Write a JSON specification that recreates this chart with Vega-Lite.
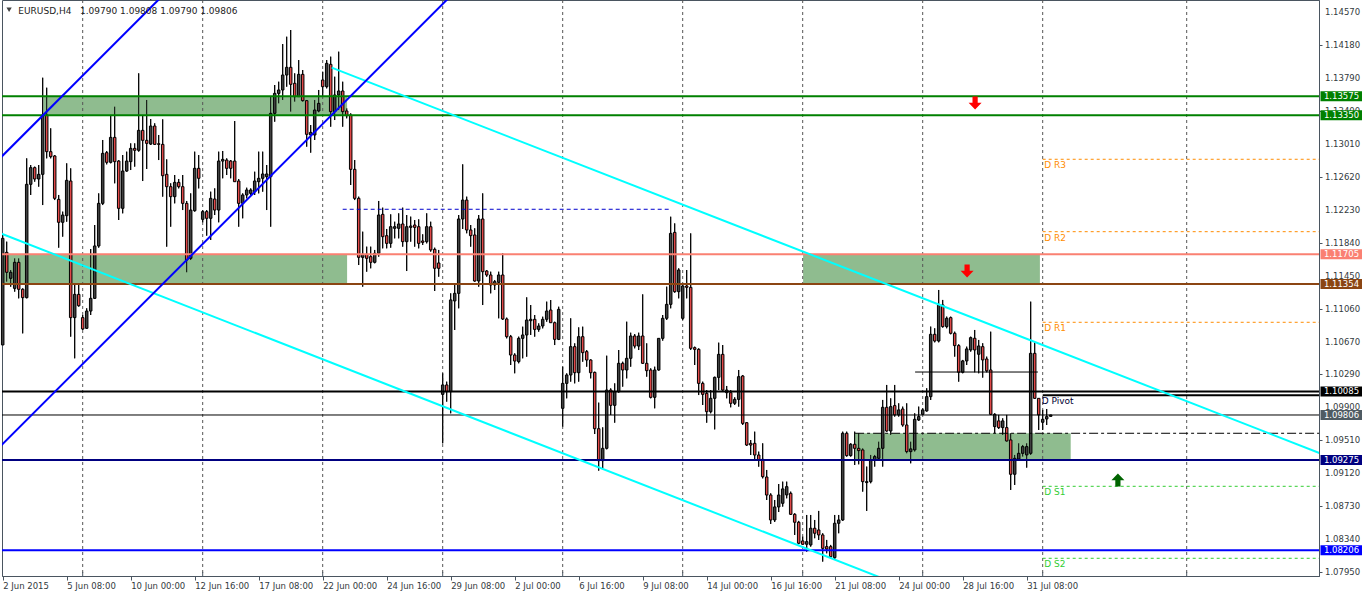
{
"$schema": "https://vega.github.io/schema/vega-lite/v6.json",
"width": 1317, "height": 576,
"autosize": {"type": "none"},
"padding": {"left": 2, "top": 0, "right": 43, "bottom": 18},
"background": "#ffffff",
"config": {"view": {"stroke": "#4a5560", "strokeWidth": 1}, "text": {"font": "DejaVu Sans", "fontSize": 8.5},
 "axis": {"labelFont": "DejaVu Sans", "labelFontSize": 8.5, "labelColor": "#333a40", "tickColor": "#4a5560", "domainColor": "#4a5560", "grid": false, "labelOverlap": false}},
"datasets": {
"candles": [
{"i":0,"o":1.10634,"h":1.11934,"l":1.10634,"c":1.11894},
{"i":1,"o":1.11729,"h":1.11855,"l":1.11382,"c":1.11493},
{"i":2,"o":1.11422,"h":1.1152,"l":1.11323,"c":1.11493},
{"i":3,"o":1.11303,"h":1.11658,"l":1.11264,"c":1.11611},
{"i":4,"o":1.11611,"h":1.11658,"l":1.11185,"c":1.11292},
{"i":5,"o":1.11292,"h":1.11303,"l":1.10771,"c":1.11193},
{"i":6,"o":1.11193,"h":1.1284,"l":1.11185,"c":1.12533},
{"i":7,"o":1.12533,"h":1.12761,"l":1.12407,"c":1.1273},
{"i":8,"o":1.1273,"h":1.12742,"l":1.12564,"c":1.12596},
{"i":9,"o":1.12596,"h":1.12761,"l":1.12505,"c":1.12651},
{"i":10,"o":1.12651,"h":1.13793,"l":1.12288,"c":1.13352},
{"i":11,"o":1.13352,"h":1.13675,"l":1.1284,"c":1.12919},
{"i":12,"o":1.12919,"h":1.13195,"l":1.1284,"c":1.1286},
{"i":13,"o":1.12868,"h":1.12879,"l":1.12347,"c":1.12367},
{"i":14,"o":1.12355,"h":1.12407,"l":1.11784,"c":1.12084},
{"i":15,"o":1.12084,"h":1.1221,"l":1.11914,"c":1.1217},
{"i":16,"o":1.12162,"h":1.12781,"l":1.12091,"c":1.1258},
{"i":17,"o":1.12572,"h":1.12722,"l":1.10732,"c":1.10957},
{"i":18,"o":1.10957,"h":1.11363,"l":1.10476,"c":1.11232},
{"i":19,"o":1.11232,"h":1.11363,"l":1.11087,"c":1.11098},
{"i":20,"o":1.10957,"h":1.10988,"l":1.10811,"c":1.10823},
{"i":21,"o":1.10831,"h":1.11067,"l":1.10823,"c":1.11035},
{"i":22,"o":1.11035,"h":1.11768,"l":1.10988,"c":1.11185},
{"i":23,"o":1.11185,"h":1.12052,"l":1.11177,"c":1.11804},
{"i":24,"o":1.11804,"h":1.12426,"l":1.11784,"c":1.12308},
{"i":25,"o":1.12308,"h":1.13057,"l":1.12288,"c":1.12899},
{"i":26,"o":1.12907,"h":1.12927,"l":1.12769,"c":1.12793},
{"i":27,"o":1.12793,"h":1.13352,"l":1.12781,"c":1.13088},
{"i":28,"o":1.13088,"h":1.13451,"l":1.12545,"c":1.12801},
{"i":29,"o":1.12808,"h":1.1282,"l":1.12111,"c":1.12249},
{"i":30,"o":1.12249,"h":1.12879,"l":1.1219,"c":1.1269},
{"i":31,"o":1.1269,"h":1.12919,"l":1.12682,"c":1.12808},
{"i":32,"o":1.12801,"h":1.13017,"l":1.12702,"c":1.12958},
{"i":33,"o":1.12958,"h":1.13017,"l":1.12742,"c":1.12935},
{"i":34,"o":1.12935,"h":1.13845,"l":1.12919,"c":1.13171},
{"i":35,"o":1.13171,"h":1.13352,"l":1.12572,"c":1.13053},
{"i":36,"o":1.13053,"h":1.1353,"l":1.12714,"c":1.13017},
{"i":37,"o":1.13009,"h":1.13305,"l":1.12998,"c":1.13222},
{"i":38,"o":1.13222,"h":1.13254,"l":1.12998,"c":1.13005},
{"i":39,"o":1.13013,"h":1.13116,"l":1.1282,"c":1.13005},
{"i":40,"o":1.13005,"h":1.13301,"l":1.12387,"c":1.12635},
{"i":41,"o":1.12651,"h":1.12828,"l":1.11796,"c":1.12505},
{"i":42,"o":1.12505,"h":1.12545,"l":1.12032,"c":1.12387},
{"i":43,"o":1.12387,"h":1.12643,"l":1.12308,"c":1.12556},
{"i":44,"o":1.12556,"h":1.12596,"l":1.12485,"c":1.12505},
{"i":45,"o":1.12505,"h":1.12643,"l":1.12229,"c":1.12308},
{"i":46,"o":1.12308,"h":1.12336,"l":1.11493,"c":1.11638},
{"i":47,"o":1.11658,"h":1.12426,"l":1.11638,"c":1.12229},
{"i":48,"o":1.12221,"h":1.12919,"l":1.1221,"c":1.12722},
{"i":49,"o":1.12722,"h":1.12879,"l":1.12485,"c":1.12604},
{"i":50,"o":1.12119,"h":1.12229,"l":1.12084,"c":1.1221},
{"i":51,"o":1.1221,"h":1.12229,"l":1.11926,"c":1.12131},
{"i":52,"o":1.12131,"h":1.12446,"l":1.11875,"c":1.12367},
{"i":53,"o":1.12359,"h":1.12485,"l":1.1217,"c":1.12229},
{"i":54,"o":1.12229,"h":1.12919,"l":1.12084,"c":1.12808},
{"i":55,"o":1.12808,"h":1.12927,"l":1.12604,"c":1.12828},
{"i":56,"o":1.1282,"h":1.1284,"l":1.12643,"c":1.12722},
{"i":57,"o":1.12808,"h":1.1282,"l":1.12604,"c":1.12722},
{"i":58,"o":1.12808,"h":1.13281,"l":1.12564,"c":1.12564},
{"i":59,"o":1.12572,"h":1.12596,"l":1.12032,"c":1.12308},
{"i":60,"o":1.12308,"h":1.12426,"l":1.12131,"c":1.12407},
{"i":61,"o":1.12407,"h":1.12493,"l":1.12367,"c":1.12466},
{"i":62,"o":1.12426,"h":1.12485,"l":1.12407,"c":1.12466},
{"i":63,"o":1.12446,"h":1.12682,"l":1.12407,"c":1.12572},
{"i":64,"o":1.12564,"h":1.12919,"l":1.12426,"c":1.12604},
{"i":65,"o":1.12604,"h":1.12919,"l":1.12446,"c":1.12655},
{"i":66,"o":1.12623,"h":1.12761,"l":1.12229,"c":1.12655},
{"i":67,"o":1.12623,"h":1.13569,"l":1.12032,"c":1.13372},
{"i":68,"o":1.13372,"h":1.13707,"l":1.13273,"c":1.13608},
{"i":69,"o":1.13608,"h":1.13746,"l":1.1349,"c":1.13648},
{"i":70,"o":1.13648,"h":1.14191,"l":1.1353,"c":1.13825},
{"i":71,"o":1.13825,"h":1.14278,"l":1.13687,"c":1.13916},
{"i":72,"o":1.13916,"h":1.14357,"l":1.13392,"c":1.13715},
{"i":73,"o":1.13727,"h":1.13845,"l":1.1351,"c":1.13569},
{"i":74,"o":1.13569,"h":1.14002,"l":1.13569,"c":1.13833},
{"i":75,"o":1.13833,"h":1.13884,"l":1.1351,"c":1.13522},
{"i":76,"o":1.13522,"h":1.1353,"l":1.12978,"c":1.13124},
{"i":77,"o":1.13116,"h":1.13234,"l":1.12907,"c":1.13147},
{"i":78,"o":1.13116,"h":1.1353,"l":1.13057,"c":1.13411},
{"i":79,"o":1.134,"h":1.13648,"l":1.13384,"c":1.1349},
{"i":80,"o":1.13766,"h":1.13864,"l":1.13569,"c":1.13687},
{"i":81,"o":1.13687,"h":1.14002,"l":1.13667,"c":1.13963},
{"i":82,"o":1.13951,"h":1.14042,"l":1.13214,"c":1.13392},
{"i":83,"o":1.13392,"h":1.13805,"l":1.13293,"c":1.13589},
{"i":84,"o":1.13589,"h":1.14101,"l":1.13411,"c":1.13636},
{"i":85,"o":1.13636,"h":1.13746,"l":1.13214,"c":1.13392},
{"i":86,"o":1.134,"h":1.13431,"l":1.13313,"c":1.13344},
{"i":87,"o":1.13352,"h":1.13372,"l":1.12525,"c":1.1271},
{"i":88,"o":1.1271,"h":1.1282,"l":1.12347,"c":1.12367},
{"i":89,"o":1.12367,"h":1.12387,"l":1.11579,"c":1.1167},
{"i":90,"o":1.1167,"h":1.11973,"l":1.11323,"c":1.11705},
{"i":91,"o":1.11705,"h":1.11796,"l":1.115,"c":1.11658},
{"i":92,"o":1.11678,"h":1.11796,"l":1.1154,"c":1.11611},
{"i":93,"o":1.11611,"h":1.11757,"l":1.11599,"c":1.11717},
{"i":94,"o":1.11717,"h":1.12336,"l":1.11678,"c":1.1217},
{"i":95,"o":1.12178,"h":1.12257,"l":1.11776,"c":1.11914},
{"i":96,"o":1.11926,"h":1.12005,"l":1.11776,"c":1.11835},
{"i":97,"o":1.11835,"h":1.12178,"l":1.11784,"c":1.12032},
{"i":98,"o":1.12013,"h":1.12091,"l":1.11894,"c":1.12032},
{"i":99,"o":1.12013,"h":1.1219,"l":1.11894,"c":1.12064},
{"i":100,"o":1.12064,"h":1.12257,"l":1.11796,"c":1.11855},
{"i":101,"o":1.11855,"h":1.1217,"l":1.11508,"c":1.12032},
{"i":102,"o":1.12024,"h":1.12151,"l":1.11855,"c":1.1204},
{"i":103,"o":1.12052,"h":1.12111,"l":1.11796,"c":1.12024},
{"i":104,"o":1.12032,"h":1.12119,"l":1.11776,"c":1.11835},
{"i":105,"o":1.11863,"h":1.11942,"l":1.11816,"c":1.11847},
{"i":106,"o":1.11855,"h":1.1219,"l":1.11835,"c":1.12032},
{"i":107,"o":1.12032,"h":1.12091,"l":1.11737,"c":1.11757},
{"i":108,"o":1.11764,"h":1.11784,"l":1.11272,"c":1.1154},
{"i":109,"o":1.11603,"h":1.11757,"l":1.11441,"c":1.1154},
{"i":110,"o":1.1005,"h":1.10299,"l":1.09471,"c":1.10161},
{"i":111,"o":1.10161,"h":1.102,"l":1.09964,"c":1.10082},
{"i":112,"o":1.10082,"h":1.11244,"l":1.09826,"c":1.11166},
{"i":113,"o":1.11154,"h":1.11343,"l":1.10811,"c":1.11244},
{"i":114,"o":1.11244,"h":1.1217,"l":1.11067,"c":1.12123},
{"i":115,"o":1.12123,"h":1.12769,"l":1.12005,"c":1.12347},
{"i":116,"o":1.12347,"h":1.12387,"l":1.11954,"c":1.11993},
{"i":117,"o":1.11993,"h":1.12052,"l":1.11796,"c":1.11926},
{"i":118,"o":1.11934,"h":1.12013,"l":1.11382,"c":1.1139},
{"i":119,"o":1.1139,"h":1.1217,"l":1.11323,"c":1.12123},
{"i":120,"o":1.12123,"h":1.12426,"l":1.11106,"c":1.115},
{"i":121,"o":1.11508,"h":1.1152,"l":1.11441,"c":1.11461},
{"i":122,"o":1.11461,"h":1.115,"l":1.11244,"c":1.11343},
{"i":123,"o":1.11343,"h":1.11402,"l":1.11284,"c":1.11382},
{"i":124,"o":1.11374,"h":1.115,"l":1.10949,"c":1.11461},
{"i":125,"o":1.11461,"h":1.11717,"l":1.10929,"c":1.10941},
{"i":126,"o":1.10941,"h":1.10957,"l":1.10712,"c":1.10732},
{"i":127,"o":1.10732,"h":1.10752,"l":1.10397,"c":1.10515},
{"i":128,"o":1.10515,"h":1.10535,"l":1.10299,"c":1.10444},
{"i":129,"o":1.10437,"h":1.10732,"l":1.10417,"c":1.10712},
{"i":130,"o":1.10712,"h":1.1085,"l":1.10476,"c":1.10752},
{"i":131,"o":1.10752,"h":1.11197,"l":1.10495,"c":1.10929},
{"i":132,"o":1.10921,"h":1.11106,"l":1.10752,"c":1.10937},
{"i":133,"o":1.10937,"h":1.10988,"l":1.10732,"c":1.10818},
{"i":134,"o":1.10818,"h":1.10889,"l":1.10791,"c":1.10858},
{"i":135,"o":1.10858,"h":1.10968,"l":1.1083,"c":1.10937},
{"i":136,"o":1.10937,"h":1.11146,"l":1.10909,"c":1.11035},
{"i":137,"o":1.11047,"h":1.11165,"l":1.10897,"c":1.10897},
{"i":138,"o":1.10897,"h":1.10909,"l":1.10633,"c":1.107},
{"i":139,"o":1.107,"h":1.11086,"l":1.10692,"c":1.11055},
{"i":140,"o":1.09885,"h":1.10377,"l":1.09668,"c":1.1018},
{"i":141,"o":1.1018,"h":1.10298,"l":1.10003,"c":1.10279},
{"i":142,"o":1.10279,"h":1.10949,"l":1.102,"c":1.10614},
{"i":143,"o":1.10614,"h":1.10653,"l":1.1018,"c":1.10306},
{"i":144,"o":1.10306,"h":1.10842,"l":1.102,"c":1.10732},
{"i":145,"o":1.10732,"h":1.1085,"l":1.10436,"c":1.10543},
{"i":146,"o":1.10555,"h":1.10574,"l":1.10377,"c":1.10456},
{"i":147,"o":1.10456,"h":1.10464,"l":1.10239,"c":1.10306},
{"i":148,"o":1.1031,"h":1.10318,"l":1.09581,"c":1.09644},
{"i":149,"o":1.09644,"h":1.09952,"l":1.09148,"c":1.09266},
{"i":150,"o":1.09266,"h":1.0966,"l":1.09176,"c":1.09412},
{"i":151,"o":1.09412,"h":1.10507,"l":1.094,"c":1.10101},
{"i":152,"o":1.10101,"h":1.10121,"l":1.09806,"c":1.0992},
{"i":153,"o":1.0992,"h":1.1018,"l":1.09715,"c":1.10082},
{"i":154,"o":1.10082,"h":1.10574,"l":1.1007,"c":1.10417},
{"i":155,"o":1.10417,"h":1.10436,"l":1.10141,"c":1.10338},
{"i":156,"o":1.10338,"h":1.10909,"l":1.10239,"c":1.10476},
{"i":157,"o":1.10476,"h":1.10779,"l":1.10377,"c":1.1074},
{"i":158,"o":1.1074,"h":1.10763,"l":1.10594,"c":1.10621},
{"i":159,"o":1.10621,"h":1.10779,"l":1.10574,"c":1.1074},
{"i":160,"o":1.1074,"h":1.11232,"l":1.10409,"c":1.10417},
{"i":161,"o":1.10417,"h":1.10653,"l":1.10259,"c":1.1033},
{"i":162,"o":1.10338,"h":1.10358,"l":1.10003,"c":1.10015},
{"i":163,"o":1.10015,"h":1.10377,"l":1.09885,"c":1.10338},
{"i":164,"o":1.10338,"h":1.10712,"l":1.1033,"c":1.10712},
{"i":165,"o":1.10712,"h":1.10988,"l":1.10685,"c":1.10949},
{"i":166,"o":1.10949,"h":1.11323,"l":1.10929,"c":1.11114},
{"i":167,"o":1.11114,"h":1.1215,"l":1.11067,"c":1.11953},
{"i":168,"o":1.11965,"h":1.12071,"l":1.11252,"c":1.11264},
{"i":169,"o":1.11264,"h":1.1154,"l":1.11185,"c":1.1152},
{"i":170,"o":1.10949,"h":1.11343,"l":1.10929,"c":1.11331},
{"i":171,"o":1.11331,"h":1.1152,"l":1.11185,"c":1.11315},
{"i":172,"o":1.11315,"h":1.11953,"l":1.10574,"c":1.10594},
{"i":173,"o":1.10602,"h":1.10614,"l":1.10397,"c":1.10582},
{"i":174,"o":1.10582,"h":1.10594,"l":1.10042,"c":1.1018},
{"i":175,"o":1.1018,"h":1.102,"l":1.09924,"c":1.1005},
{"i":176,"o":1.10062,"h":1.10101,"l":1.09715,"c":1.09845},
{"i":177,"o":1.09845,"h":1.10101,"l":1.09826,"c":1.10003},
{"i":178,"o":1.10003,"h":1.10259,"l":1.09636,"c":1.10251},
{"i":179,"o":1.10251,"h":1.10661,"l":1.10101,"c":1.10523},
{"i":180,"o":1.10523,"h":1.10633,"l":1.10082,"c":1.10101},
{"i":181,"o":1.1007,"h":1.10149,"l":1.10003,"c":1.10101},
{"i":182,"o":1.1007,"h":1.10101,"l":1.09897,"c":1.09944},
{"i":183,"o":1.09944,"h":1.10015,"l":1.09924,"c":1.09991},
{"i":184,"o":1.09991,"h":1.10338,"l":1.09905,"c":1.10259},
{"i":185,"o":1.10267,"h":1.10279,"l":1.09688,"c":1.09707},
{"i":186,"o":1.09715,"h":1.09723,"l":1.0944,"c":1.09451},
{"i":187,"o":1.09471,"h":1.0951,"l":1.09333,"c":1.09451},
{"i":188,"o":1.09471,"h":1.09609,"l":1.09274,"c":1.09333},
{"i":189,"o":1.09333,"h":1.09373,"l":1.09195,"c":1.09274},
{"i":190,"o":1.09282,"h":1.09471,"l":1.09057,"c":1.09077},
{"i":191,"o":1.09073,"h":1.09156,"l":1.08801,"c":1.0886},
{"i":192,"o":1.0886,"h":1.0888,"l":1.08518,"c":1.08565},
{"i":193,"o":1.08565,"h":1.08801,"l":1.08541,"c":1.08719},
{"i":194,"o":1.08719,"h":1.0899,"l":1.08659,"c":1.0886},
{"i":195,"o":1.08762,"h":1.09018,"l":1.08723,"c":1.08932},
{"i":196,"o":1.08861,"h":1.09018,"l":1.08821,"c":1.08959},
{"i":197,"o":1.0888,"h":1.089,"l":1.08624,"c":1.08632},
{"i":198,"o":1.08632,"h":1.08644,"l":1.08388,"c":1.08538},
{"i":199,"o":1.08538,"h":1.08554,"l":1.08278,"c":1.0829},
{"i":200,"o":1.08317,"h":1.08368,"l":1.0827,"c":1.08278},
{"i":201,"o":1.08278,"h":1.08624,"l":1.08191,"c":1.08309},
{"i":202,"o":1.0827,"h":1.08624,"l":1.0825,"c":1.08467},
{"i":203,"o":1.08467,"h":1.08565,"l":1.08349,"c":1.08408},
{"i":204,"o":1.08447,"h":1.08672,"l":1.08329,"c":1.08388},
{"i":205,"o":1.08388,"h":1.08408,"l":1.08073,"c":1.0823},
{"i":206,"o":1.0825,"h":1.08329,"l":1.08171,"c":1.08222},
{"i":207,"o":1.0825,"h":1.0827,"l":1.08112,"c":1.08132},
{"i":208,"o":1.0812,"h":1.08624,"l":1.08093,"c":1.08526},
{"i":209,"o":1.08526,"h":1.08624,"l":1.08408,"c":1.08565},
{"i":210,"o":1.08565,"h":1.09609,"l":1.08554,"c":1.0959},
{"i":211,"o":1.0959,"h":1.09609,"l":1.09314,"c":1.09326},
{"i":212,"o":1.09326,"h":1.09472,"l":1.09314,"c":1.0946},
{"i":213,"o":1.0946,"h":1.09609,"l":1.09215,"c":1.09412},
{"i":214,"o":1.09412,"h":1.0959,"l":1.09223,"c":1.09385},
{"i":215,"o":1.09393,"h":1.09412,"l":1.089,"c":1.09018},
{"i":216,"o":1.09007,"h":1.09196,"l":1.08672,"c":1.09018},
{"i":217,"o":1.09018,"h":1.09334,"l":1.08999,"c":1.09275},
{"i":218,"o":1.09275,"h":1.09334,"l":1.09196,"c":1.09314},
{"i":219,"o":1.09294,"h":1.09491,"l":1.09275,"c":1.09412},
{"i":220,"o":1.09412,"h":1.09984,"l":1.09196,"c":1.09897},
{"i":221,"o":1.09897,"h":1.10161,"l":1.09609,"c":1.09617},
{"i":222,"o":1.09617,"h":1.10003,"l":1.0957,"c":1.09905},
{"i":223,"o":1.09917,"h":1.10161,"l":1.09787,"c":1.09807},
{"i":224,"o":1.09807,"h":1.09944,"l":1.09787,"c":1.09866},
{"i":225,"o":1.09877,"h":1.09905,"l":1.09669,"c":1.09688},
{"i":226,"o":1.09688,"h":1.09944,"l":1.09353,"c":1.09373},
{"i":227,"o":1.09373,"h":1.09491,"l":1.09235,"c":1.09405},
{"i":228,"o":1.09393,"h":1.09826,"l":1.09373,"c":1.09755},
{"i":229,"o":1.09747,"h":1.09905,"l":1.09736,"c":1.09787},
{"i":230,"o":1.09814,"h":1.09885,"l":1.09807,"c":1.09866},
{"i":231,"o":1.09854,"h":1.10122,"l":1.09846,"c":1.10023},
{"i":232,"o":1.10023,"h":1.10851,"l":1.09984,"c":1.1076},
{"i":233,"o":1.1076,"h":1.10831,"l":1.10665,"c":1.10681},
{"i":234,"o":1.10681,"h":1.11284,"l":1.10665,"c":1.11107},
{"i":235,"o":1.11107,"h":1.11166,"l":1.10839,"c":1.10851},
{"i":236,"o":1.10851,"h":1.10969,"l":1.10831,"c":1.10949},
{"i":237,"o":1.10957,"h":1.10969,"l":1.1076,"c":1.10772},
{"i":238,"o":1.10772,"h":1.10791,"l":1.10496,"c":1.10626},
{"i":239,"o":1.10626,"h":1.10642,"l":1.102,"c":1.10311},
{"i":240,"o":1.10311,"h":1.10457,"l":1.10299,"c":1.10445},
{"i":241,"o":1.10445,"h":1.10614,"l":1.10397,"c":1.10587},
{"i":242,"o":1.10575,"h":1.10732,"l":1.10555,"c":1.1072},
{"i":243,"o":1.10713,"h":1.10811,"l":1.10311,"c":1.10575},
{"i":244,"o":1.10524,"h":1.10693,"l":1.10299,"c":1.10622},
{"i":245,"o":1.10614,"h":1.10654,"l":1.10248,"c":1.10457},
{"i":246,"o":1.10468,"h":1.10496,"l":1.10311,"c":1.10328},
{"i":247,"o":1.10338,"h":1.10791,"l":1.09807,"c":1.09814},
{"i":248,"o":1.09669,"h":1.09826,"l":1.0959,"c":1.09814},
{"i":249,"o":1.09736,"h":1.09807,"l":1.09641,"c":1.09657},
{"i":250,"o":1.09657,"h":1.09767,"l":1.0957,"c":1.09736},
{"i":251,"o":1.09657,"h":1.09807,"l":1.09491,"c":1.09499},
{"i":252,"o":1.09511,"h":1.0959,"l":1.0892,"c":1.09105},
{"i":253,"o":1.09105,"h":1.09334,"l":1.08979,"c":1.09294},
{"i":254,"o":1.09286,"h":1.09472,"l":1.09275,"c":1.09353},
{"i":255,"o":1.09353,"h":1.09452,"l":1.09314,"c":1.09432},
{"i":256,"o":1.09334,"h":1.09472,"l":1.09184,"c":1.09432},
{"i":257,"o":1.09353,"h":1.11146,"l":1.09334,"c":1.10535},
{"i":258,"o":1.10535,"h":1.10673,"l":1.09996,"c":1.10003},
{"i":259,"o":1.10003,"h":1.10003,"l":1.09629,"c":1.09807},
{"i":260,"o":1.0972,"h":1.09866,"l":1.09629,"c":1.09755},
{"i":261,"o":1.09759,"h":1.09877,"l":1.09688,"c":1.09787},
{"i":262,"o":1.0979,"h":1.09808,"l":1.0979,"c":1.09806}
],
"zones": [
{"a":10.15,"b":86.1,"p1":1.1335,"p2":1.13575},
{"a":-0.2,"b":86.1,"p1":1.11354,"p2":1.11705},
{"a":200.1,"b":259.3,"p1":1.11354,"p2":1.11705},
{"a":213.1,"b":267.0,"p1":1.09275,"p2":1.0959}
],
"ylabels": [
{"v":1.1457},{"v":1.1418},{"v":1.1379},{"v":1.134},{"v":1.1301},{"v":1.1262},{"v":1.1223},{"v":1.1184},{"v":1.1145},
{"v":1.1106},{"v":1.1067},{"v":1.1029},{"v":1.099},{"v":1.0951},{"v":1.0912},{"v":1.0873},{"v":1.0834},{"v":1.0795}
],
"weeks": [{"i":20},{"i":50},{"i":80},{"i":110},{"i":140},{"i":170},{"i":200},{"i":230},{"i":260},{"i":296}],
"boxes": [
{"p":1.13575,"t":"1.13575"},
{"p":1.1335,"t":"1.13350"},
{"p":1.11705,"t":"1.11705"},
{"p":1.11354,"t":"1.11354"},
{"p":1.10085,"t":"1.10085"},
{"p":1.09806,"t":"1.09806"},
{"p":1.09275,"t":"1.09275"},
{"p":1.08206,"t":"1.08206"}
]
},
"layer": [
{"data": {"name": "candles"}, "mark": {"type": "rule", "color": "#000000", "strokeWidth": 1},
 "encoding": {
  "x": {"field": "i", "type": "quantitative", "title": null, "scale": {"domain": [-0.175, 329.075], "nice": false, "zero": false, "padding": 0},
   "axis": {"orient": "bottom", "title": null, "values": [0,16,32,48,64,80,96,112,128,144,160,176,192,208,224,240,256],
    "labelExpr": "['2 Jun 2015','5 Jun 08:00','10 Jun 00:00','12 Jun 16:00','17 Jun 08:00','22 Jun 00:00','24 Jun 16:00','29 Jun 08:00','2 Jul 00:00','6 Jul 16:00','9 Jul 08:00','14 Jul 00:00','16 Jul 16:00','21 Jul 08:00','24 Jul 00:00','28 Jul 16:00','31 Jul 08:00'][round(datum.value/16)]",
    "labelAlign": "left", "labelBaseline": "top", "labelPadding": 1, "tickSize": 4, "labelOverlap": false, "labelFlush": false}},
  "y": {"field": "l", "type": "quantitative", "title": null, "scale": {"domain": [1.079027, 1.147119], "nice": false, "zero": false, "padding": 0},
   "axis": {"orient": "right", "title": null, "values": [1.1457,1.1418,1.1379,1.134,1.1301,1.1262,1.1223,1.1184,1.1145,1.1106,1.1067,1.1029,1.099,1.0951,1.0912,1.0873,1.0834,1.0795],
    "labels": false, "tickSize": 3}},
  "y2": {"field": "h"}}},
{"data": {"name": "zones"}, "mark": {"type": "rect", "color": "#8FBC8F"},
 "encoding": {"x": {"field": "a", "type": "quantitative", "title": null}, "x2": {"field": "b"},
  "y": {"field": "p1", "type": "quantitative", "title": null}, "y2": {"field": "p2"}}},
{"data": {"name": "weeks"},
 "mark": {"type": "rule", "color": "#555555", "strokeDash": [3, 3], "strokeWidth": 1},
 "encoding": {"x": {"field": "i", "type": "quantitative", "title": null}}},
{"data": {"name": "weeks"},
 "mark": {"type": "rule", "color": "#4a5560", "strokeWidth": 1},
 "encoding": {"x": {"field": "i", "type": "quantitative", "title": null}, "y": {"datum": 1.079027, "type": "quantitative", "title": null}, "y2": {"datum": 1.0795}}},
{"data": {"name": "candles"}, "mark": {"type": "rule", "color": "#000000", "strokeWidth": 1},
 "encoding": {"x": {"field": "i", "type": "quantitative", "title": null},
  "y": {"field": "l", "type": "quantitative", "title": null}, "y2": {"field": "h"}}},
{"data": {"name": "candles"}, "mark": {"type": "bar", "width": 2.5, "stroke": "#000000", "strokeWidth": 1},
 "encoding": {"x": {"field": "i", "type": "quantitative", "title": null},
  "y": {"field": "o", "type": "quantitative", "title": null}, "y2": {"field": "c"},
  "color": {"condition": {"test": "datum.c >= datum.o", "value": "#404040"}, "value": "#E04848"}}},
{"data": {"values": [{"p":1.13575},{"p":1.1335}]}, "mark": {"type": "rule", "color": "#008000", "strokeWidth": 2},
 "encoding": {"y": {"field": "p", "type": "quantitative", "title": null}}},
{"data": {"values": [{"p":1.11705}]}, "mark": {"type": "rule", "color": "#FA8072", "strokeWidth": 2},
 "encoding": {"y": {"field": "p", "type": "quantitative", "title": null}}},
{"data": {"values": [{"p":1.11354}]}, "mark": {"type": "rule", "color": "#8B4513", "strokeWidth": 2},
 "encoding": {"y": {"field": "p", "type": "quantitative", "title": null}}},
{"data": {"values": [{"p":1.10085}]}, "mark": {"type": "rule", "color": "#000000", "strokeWidth": 2},
 "encoding": {"y": {"field": "p", "type": "quantitative", "title": null}}},
{"data": {"values": [{"p":1.09806}]}, "mark": {"type": "rule", "color": "#000000", "strokeWidth": 1},
 "encoding": {"y": {"field": "p", "type": "quantitative", "title": null}}},
{"data": {"values": [{"p":1.09275}]}, "mark": {"type": "rule", "color": "#000080", "strokeWidth": 2},
 "encoding": {"y": {"field": "p", "type": "quantitative", "title": null}}},
{"data": {"values": [{"p":1.08206}]}, "mark": {"type": "rule", "color": "#0000FF", "strokeWidth": 2},
 "encoding": {"y": {"field": "p", "type": "quantitative", "title": null}}},
{"data": {"values": [{"a":85,"b":166.8,"p":1.12238}]}, "mark": {"type": "rule", "color": "#0000CD", "strokeWidth": 1, "strokeDash": [4, 3]},
 "encoding": {"x": {"field": "a", "type": "quantitative", "title": null}, "x2": {"field": "b"}, "y": {"field": "p", "type": "quantitative", "title": null}}},
{"data": {"values": [{"a":228.1,"b":258.8,"p":1.10314}]}, "mark": {"type": "rule", "color": "#000000", "strokeWidth": 1},
 "encoding": {"x": {"field": "a", "type": "quantitative", "title": null}, "x2": {"field": "b"}, "y": {"field": "p", "type": "quantitative", "title": null}}},
{"data": {"values": [{"a":213.1,"b":329.1,"p":1.0959}]}, "mark": {"type": "rule", "color": "#000000", "strokeWidth": 1, "strokeDash": [9, 3, 3, 3]},
 "encoding": {"x": {"field": "a", "type": "quantitative", "title": null}, "x2": {"field": "b"}, "y": {"field": "p", "type": "quantitative", "title": null}}},
{"data": {"values": [{"a":260,"b":329.1,"p":1.12829},{"a":260,"b":329.1,"p":1.11973},{"a":260,"b":329.1,"p":1.10902}]}, "mark": {"type": "rule", "color": "#FF8C00", "strokeWidth": 1, "strokeDash": [3, 3]},
 "encoding": {"x": {"field": "a", "type": "quantitative", "title": null}, "x2": {"field": "b"}, "y": {"field": "p", "type": "quantitative", "title": null}}},
{"data": {"values": [{"a":260,"b":329.1,"p":1.08963},{"a":260,"b":329.1,"p":1.08112}]}, "mark": {"type": "rule", "color": "#32CD32", "strokeWidth": 1, "strokeDash": [3, 3]},
 "encoding": {"x": {"field": "a", "type": "quantitative", "title": null}, "x2": {"field": "b"}, "y": {"field": "p", "type": "quantitative", "title": null}}},
{"data": {"values": [{"a":260,"b":329.1,"p":1.1004}]}, "mark": {"type": "rule", "color": "#000000", "strokeWidth": 2},
 "encoding": {"x": {"field": "a", "type": "quantitative", "title": null}, "x2": {"field": "b"}, "y": {"field": "p", "type": "quantitative", "title": null}}},
{"data": {"values": [{"g":"u","i":82.25,"p":1.13912},{"g":"u","i":330,"p":1.09341},{"g":"d","i":-1,"p":1.11963},{"g":"d","i":230,"p":1.07689}]},
 "mark": {"type": "line", "color": "#00FFFF", "strokeWidth": 2, "clip": true},
 "encoding": {"x": {"field": "i", "type": "quantitative", "title": null}, "y": {"field": "p", "type": "quantitative", "title": null}, "detail": {"field": "g"}}},
{"data": {"values": [{"g":"a","i":-1,"p":1.12826},{"g":"a","i":45,"p":1.15001},{"g":"b","i":-1,"p":1.09416},{"g":"b","i":111.5,"p":1.14736}]},
 "mark": {"type": "line", "color": "#0000FF", "strokeWidth": 2, "clip": true},
 "encoding": {"x": {"field": "i", "type": "quantitative", "title": null}, "y": {"field": "p", "type": "quantitative", "title": null}, "detail": {"field": "g"}}},
{"data": {"values": [{"i":260,"p":1.12829,"t":"D R3"},{"i":260,"p":1.11973,"t":"D R2"},{"i":260,"p":1.10902,"t":"D R1"}]},
 "mark": {"type": "text", "color": "#FF8C00", "align": "left", "baseline": "top", "dx": 1.5, "dy": 2, "fontSize": 9},
 "encoding": {"x": {"field": "i", "type": "quantitative", "title": null}, "y": {"field": "p", "type": "quantitative", "title": null}, "text": {"field": "t"}}},
{"data": {"values": [{"i":260,"p":1.08963,"t":"D S1"},{"i":260,"p":1.08112,"t":"D S2"}]},
 "mark": {"type": "text", "color": "#32CD32", "align": "left", "baseline": "top", "dx": 1.5, "dy": 2, "fontSize": 9},
 "encoding": {"x": {"field": "i", "type": "quantitative", "title": null}, "y": {"field": "p", "type": "quantitative", "title": null}, "text": {"field": "t"}}},
{"data": {"values": [{"i":260,"p":1.1004,"t":"D Pivot"}]},
 "mark": {"type": "text", "color": "#000033", "align": "left", "baseline": "top", "dx": -1, "dy": 2, "fontSize": 9},
 "encoding": {"x": {"field": "i", "type": "quantitative", "title": null}, "y": {"field": "p", "type": "quantitative", "title": null}, "text": {"field": "t"}}},
{"data": {"values": [{"i":243.1,"p":1.13494},{"i":241.1,"p":1.11508}]},
 "mark": {"type": "point", "shape": "M-0.4,-1H0.4V-0.05H1L0,1L-1,-0.05H-0.4Z", "filled": true, "color": "#FF0000", "opacity": 1, "size": 169},
 "encoding": {"x": {"field": "i", "type": "quantitative", "title": null}, "y": {"field": "p", "type": "quantitative", "title": null}}},
{"data": {"values": [{"i":278.8,"p":1.09038}]},
 "mark": {"type": "point", "shape": "M-0.4,1H0.4V0.05H1L0,-1L-1,0.05H-0.4Z", "filled": true, "color": "#006400", "opacity": 1, "size": 169},
 "encoding": {"x": {"field": "i", "type": "quantitative", "title": null}, "y": {"field": "p", "type": "quantitative", "title": null}}},
{"data": {"name": "ylabels"},
 "mark": {"type": "text", "color": "#333a40", "align": "left", "baseline": "middle", "clip": false, "fontSize": 8.5},
 "encoding": {"x": {"datum": 330.575, "type": "quantitative", "title": null}, "y": {"field": "v", "type": "quantitative", "title": null},
  "text": {"field": "v", "type": "quantitative", "format": ".5f"}}},
{"data": {"name": "boxes"},
 "mark": {"type": "point", "shape": "M-1,-0.238H1V0.238H-1Z", "filled": true, "opacity": 1, "size": 1764, "clip": false},
 "encoding": {"x": {"datum": 334.7, "type": "quantitative", "title": null}, "y": {"field": "p", "type": "quantitative", "title": null},
  "color": {"field": "t", "type": "nominal", "legend": null,
   "scale": {"domain": ["1.13575","1.13350","1.11705","1.11354","1.10085","1.09806","1.09275","1.08206"],
    "range": ["#008000","#008000","#FA8072","#8B4513","#000000","#4F5B63","#000080","#0000FF"]}}}},
{"data": {"name": "boxes"},
 "mark": {"type": "text", "color": "#FFFFFF", "align": "center", "baseline": "middle", "clip": false},
 "encoding": {"x": {"datum": 334.7, "type": "quantitative", "title": null}, "y": {"field": "p", "type": "quantitative", "title": null}, "text": {"field": "t"}}},
{"data": {"values": [{"i":1.6,"p":1.14596}]},
 "mark": {"type": "point", "shape": "triangle-down", "filled": true, "color": "#404040", "opacity": 1, "size": 28},
 "encoding": {"x": {"field": "i", "type": "quantitative", "title": null}, "y": {"field": "p", "type": "quantitative", "title": null}}},
{"data": {"values": [{"i":3.9,"p":1.14584,"t":"EURUSD,H4\u00a0\u00a0\u00a01.09790 1.09808 1.09790 1.09806"}]},
 "mark": {"type": "text", "color": "#222222", "align": "left", "baseline": "middle", "fontSize": 9},
 "encoding": {"x": {"field": "i", "type": "quantitative", "title": null}, "y": {"field": "p", "type": "quantitative", "title": null}, "text": {"field": "t"}}}
]
}
